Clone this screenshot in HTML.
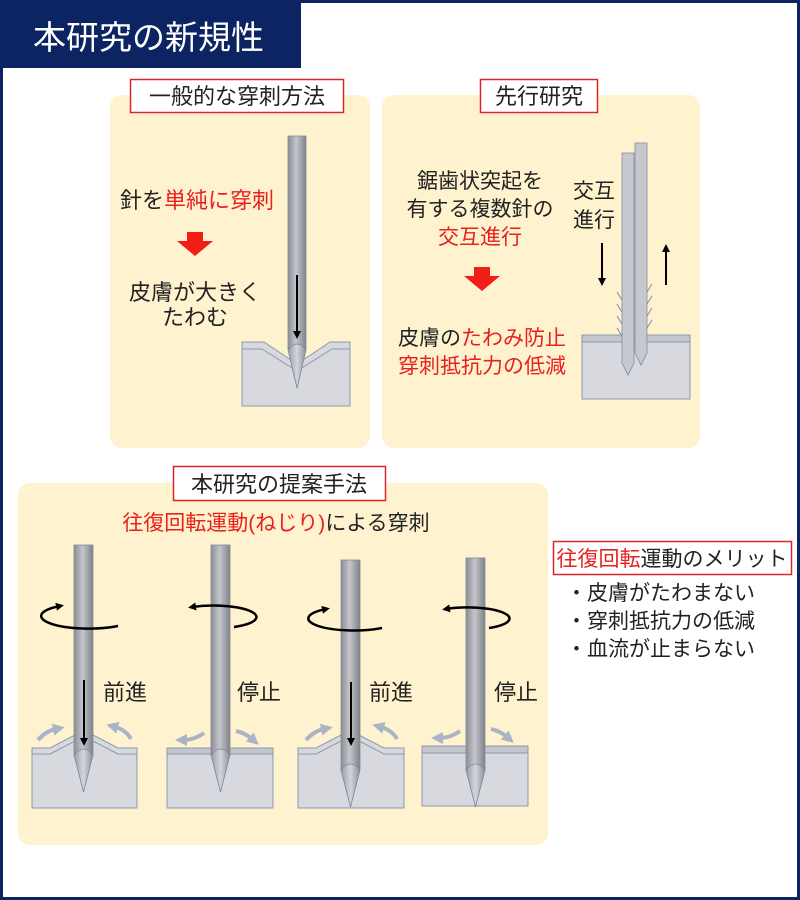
<!DOCTYPE html>
<html><head><meta charset="utf-8"><style>
html,body{margin:0;padding:0;background:#fff}
svg{display:block}
text{font-family:"Liberation Sans","Noto Sans CJK JP",sans-serif;}
</style></head><body>
<svg width="800" height="900" viewBox="0 0 800 900" xmlns="http://www.w3.org/2000/svg">
<defs>
<linearGradient id="ng" x1="0" x2="1" y1="0" y2="0">
<stop offset="0" stop-color="#8a8d94"/><stop offset="0.45" stop-color="#c4c6cb"/><stop offset="1" stop-color="#7f828a"/>
</linearGradient>
<linearGradient id="tg" x1="0" x2="1">
<stop offset="0" stop-color="#9a9ca3"/><stop offset="0.5" stop-color="#d3d5d9"/><stop offset="1" stop-color="#8d9097"/>
</linearGradient>
<marker id="ah" markerWidth="8" markerHeight="8" refX="4" refY="4" orient="auto" markerUnits="userSpaceOnUse"><path d="M0,0 L8,4 L0,8 z" fill="#000"/></marker>
<marker id="gh" markerWidth="12" markerHeight="12" refX="3" refY="6" orient="auto" markerUnits="userSpaceOnUse"><path d="M0,0 L12,6 L0,12 z" fill="#a9b4c6"/></marker>
</defs>
<rect x="1.5" y="1.5" width="797" height="897" fill="#fff" stroke="#0c2461" stroke-width="3"/>
<rect x="0" y="0" width="301" height="68" fill="#0c2461"/>
<text x="33" y="49" font-size="33" fill="#fff">本研究の新規性</text>

<!-- Panel 1 -->
<rect x="110" y="95" width="260" height="353" rx="12" fill="#fff2cf"/>
<rect x="130.5" y="79.5" width="213" height="33" fill="#fff" stroke="#d9262b" stroke-width="1.5"/>
<text x="237" y="104" font-size="22" text-anchor="middle" fill="#222">一般的な穿刺方法</text>
<text x="197" y="208" font-size="22" text-anchor="middle" fill="#222">針を<tspan fill="#e8211f">単純に穿刺</tspan></text>
<path d="M187,232 h16 v9 h10 l-18,15 l-18,-15 h10 z" fill="#f01e14"/>
<text x="195" y="300" font-size="22" text-anchor="middle" fill="#222">皮膚が大きく</text>
<text x="195" y="325" font-size="22" text-anchor="middle" fill="#222">たわむ</text>
<path d="M242,342 h22 l33,22 l33,-22 h20 v64 h-108 z" fill="#d8d9de" stroke="#8e98ad" stroke-width="1"/>
<path d="M242,349 h20 l35,22 l35,-22 h18" fill="none" stroke="#8e98ad" stroke-width="1"/>
<rect x="288" y="136" width="18" height="214" fill="url(#ng)" stroke="#858a96" stroke-width="0.8"/>
<path d="M288,350 q9,-12 18,0 l-9,38 z" fill="url(#tg)" stroke="#7884a0" stroke-width="0.8"/>
<line x1="297" y1="275" x2="297" y2="335" stroke="#000" stroke-width="2" marker-end="url(#ah)"/>

<!-- Panel 2 -->
<rect x="382" y="95" width="318" height="353" rx="12" fill="#fff2cf"/>
<rect x="480.5" y="79.5" width="117" height="33" fill="#fff" stroke="#d9262b" stroke-width="1.5"/>
<text x="539" y="104" font-size="22" text-anchor="middle" fill="#222">先行研究</text>
<text x="480" y="188" font-size="21" text-anchor="middle" fill="#222">鋸歯状突起を</text>
<text x="480" y="216" font-size="21" text-anchor="middle" fill="#222">有する複数針の</text>
<text x="480" y="244" font-size="21" text-anchor="middle" fill="#e8211f">交互進行</text>
<path d="M474,267 h16 v9 h10 l-18,15 l-18,-15 h10 z" fill="#f01e14"/>
<text x="482" y="345" font-size="21" text-anchor="middle" fill="#222">皮膚の<tspan fill="#e8211f">たわみ防止</tspan></text>
<text x="482" y="373" font-size="21" text-anchor="middle" fill="#e8211f">穿刺抵抗力の低減</text>
<rect x="582" y="335" width="108" height="64" fill="#d8d9de" stroke="#8e98ad" stroke-width="1"/>
<rect x="582" y="335" width="108" height="7" fill="#c3c6cd" stroke="#8e98ad" stroke-width="1"/>
<path d="M622,153 h12 v210 l-6,12 l-6,-12 z" fill="#c6c8cd" stroke="#7f8aa3" stroke-width="0.8"/>
<path d="M635,143 h12 v210 l-6,12 l-6,-12 z" fill="#c6c8cd" stroke="#7f8aa3" stroke-width="0.8"/>
<path d="M622,300 l-5,-8 M622,312 l-5,-8 M622,324 l-5,-8 M622,336 l-5,-8 M647,292 l5,-8 M647,304 l5,-8 M647,316 l5,-8 M647,328 l5,-8" stroke="#7f8aa3" stroke-width="1" fill="none"/>
<text x="594" y="198" font-size="21" text-anchor="middle" fill="#222">交互</text>
<text x="594" y="227" font-size="21" text-anchor="middle" fill="#222">進行</text>
<line x1="602" y1="243" x2="602" y2="282" stroke="#000" stroke-width="2" marker-end="url(#ah)"/>
<line x1="666" y1="285" x2="666" y2="248" stroke="#000" stroke-width="2" marker-end="url(#ah)"/>

<!-- Panel 3 -->
<rect x="18" y="483" width="530" height="362" rx="12" fill="#fff2cf"/>
<rect x="173.5" y="466.5" width="212" height="34" fill="#fff" stroke="#d9262b" stroke-width="1.5"/>
<text x="279" y="492" font-size="22" text-anchor="middle" fill="#222">本研究の提案手法</text>
<text x="276" y="530" font-size="21" text-anchor="middle" fill="#222"><tspan fill="#e8211f">往復回転運動(ねじり)</tspan>による穿刺</text>

<!-- 1 -->
<path d="M32,748 h18 l25,-13 h18 l25,13 h19 v60 h-105 z" fill="#d8d9de" stroke="#8e98ad" stroke-width="1"/>
<path d="M32,754 h18 l25,-13 h18 l25,13 h19" fill="none" stroke="#8e98ad" stroke-width="1"/>
<rect x="74" y="545" width="19" height="210" fill="url(#ng)" stroke="#858a96" stroke-width="0.8"/>
<path d="M74,755 q9.5,-12 19,0 l-9.5,37 z" fill="url(#tg)" stroke="#7884a0" stroke-width="0.8"/>
<line x1="84" y1="680" x2="84" y2="742" stroke="#000" stroke-width="2" marker-end="url(#ah)"/>
<path d="M118,626 A38,10 0 1 1 60,606" fill="none" stroke="#000" stroke-width="2.5" marker-end="url(#ah)"/>
<text x="103" y="700" font-size="22" fill="#222">前進</text>
<path d="M38,740 q8,-9 18,-11" fill="none" stroke="#a9b4c6" stroke-width="4" marker-end="url(#gh)"/>
<path d="M131,739 q-5,-9 -16,-12" fill="none" stroke="#a9b4c6" stroke-width="4" marker-end="url(#gh)"/>

<!-- 2 -->
<rect x="167" y="748" width="106" height="60" fill="#d8d9de" stroke="#8e98ad" stroke-width="1"/>
<rect x="167" y="748" width="106" height="6" fill="#c3c6cd" stroke="#8e98ad" stroke-width="1"/>
<rect x="211" y="545" width="19" height="210" fill="url(#ng)" stroke="#858a96" stroke-width="0.8"/>
<path d="M211,755 q9.5,-12 19,0 l-9.5,37 z" fill="url(#tg)" stroke="#7884a0" stroke-width="0.8"/>
<path d="M234,627 A38,10 0 1 0 192,607" fill="none" stroke="#000" stroke-width="2.5" marker-end="url(#ah)"/>
<text x="237" y="700" font-size="22" fill="#222">停止</text>
<path d="M204,733 q-10,7 -20,7" fill="none" stroke="#a9b4c6" stroke-width="4" marker-end="url(#gh)"/>
<path d="M236,731 q9,2 16,8" fill="none" stroke="#a9b4c6" stroke-width="4" marker-end="url(#gh)"/>

<!-- 3 -->
<path d="M298,748 h18 l25,-13 h18 l25,13 h20 v60 h-106 z" fill="#d8d9de" stroke="#8e98ad" stroke-width="1"/>
<path d="M298,754 h18 l25,-13 h18 l25,13 h20" fill="none" stroke="#8e98ad" stroke-width="1"/>
<rect x="341" y="560" width="19" height="210" fill="url(#ng)" stroke="#858a96" stroke-width="0.8"/>
<path d="M341,770 q9.5,-12 19,0 l-9.5,37 z" fill="url(#tg)" stroke="#7884a0" stroke-width="0.8"/>
<line x1="351" y1="682" x2="351" y2="742" stroke="#000" stroke-width="2" marker-end="url(#ah)"/>
<path d="M382,628 A38,10 0 1 1 326,609" fill="none" stroke="#000" stroke-width="2.5" marker-end="url(#ah)"/>
<text x="369" y="700" font-size="22" fill="#222">前進</text>
<path d="M306,740 q8,-9 18,-11" fill="none" stroke="#a9b4c6" stroke-width="4" marker-end="url(#gh)"/>
<path d="M397,739 q-5,-9 -16,-12" fill="none" stroke="#a9b4c6" stroke-width="4" marker-end="url(#gh)"/>

<!-- 4 -->
<rect x="422" y="746" width="106" height="60" fill="#d8d9de" stroke="#8e98ad" stroke-width="1"/>
<rect x="422" y="746" width="106" height="7" fill="#c3c6cd" stroke="#8e98ad" stroke-width="1"/>
<rect x="466" y="558" width="19" height="212" fill="url(#ng)" stroke="#858a96" stroke-width="0.8"/>
<path d="M466,770 q9.5,-12 19,0 l-9.5,37 z" fill="url(#tg)" stroke="#7884a0" stroke-width="0.8"/>
<path d="M489,628 A38,10 0 1 0 446,609" fill="none" stroke="#000" stroke-width="2.5" marker-end="url(#ah)"/>
<text x="494" y="700" font-size="22" fill="#222">停止</text>
<path d="M460,731 q-10,7 -20,7" fill="none" stroke="#a9b4c6" stroke-width="4" marker-end="url(#gh)"/>
<path d="M491,729 q9,2 16,8" fill="none" stroke="#a9b4c6" stroke-width="4" marker-end="url(#gh)"/>

<!-- Merits -->
<rect x="553.5" y="541.5" width="238" height="33" fill="#fff" stroke="#d9262b" stroke-width="1.5"/>
<text x="672" y="566" font-size="21" text-anchor="middle" fill="#222"><tspan fill="#e8211f">往復回転</tspan>運動のメリット</text>
<text x="566" y="600" font-size="21" fill="#222">・皮膚がたわまない</text>
<text x="566" y="628" font-size="21" fill="#222">・穿刺抵抗力の低減</text>
<text x="566" y="656" font-size="21" fill="#222">・血流が止まらない</text>
</svg>
</body></html>
